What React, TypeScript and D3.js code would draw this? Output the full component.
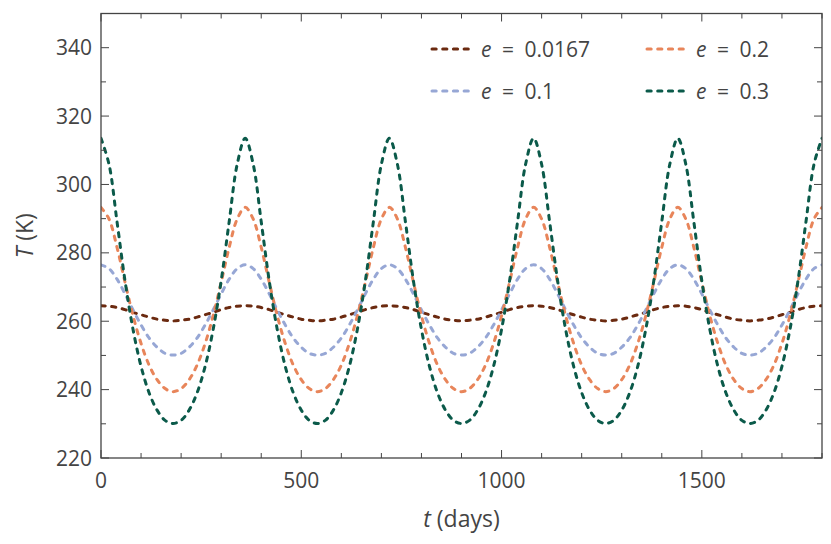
import React, { useEffect } from 'react';
import * as d3 from 'd3';

// sample days (every 20 days over 5 orbits)
const days = [
  0, 20, 40, 60, 80, 100, 120, 140, 160, 180, 200, 220, 240, 260, 280, 300, 320, 340,
  360, 380, 400, 420, 440, 460, 480, 500, 520, 540, 560, 580, 600, 620, 640, 660, 680, 700,
  720, 740, 760, 780, 800, 820, 840, 860, 880, 900, 920, 940, 960, 980, 1000, 1020, 1040, 1060,
  1080, 1100, 1120, 1140, 1160, 1180, 1200, 1220, 1240, 1260, 1280, 1300, 1320, 1340, 1360, 1380,
  1400, 1420, 1440, 1460, 1480, 1500, 1520, 1540, 1560, 1580, 1600, 1620, 1640, 1660, 1680, 1700,
  1720, 1740, 1760, 1780, 1800,
];

const tempE0167 = [
  264.5, 264.4, 264.0, 263.4, 262.6, 261.9, 261.2, 260.6, 260.3, 260.1, 260.3, 260.6, 261.2, 261.9, 262.6, 263.4, 264.0, 264.4,
  264.5, 264.4, 264.0, 263.4, 262.6, 261.9, 261.2, 260.6, 260.3, 260.1, 260.3, 260.6, 261.2, 261.9, 262.6, 263.4, 264.0, 264.4,
  264.5, 264.4, 264.0, 263.4, 262.6, 261.9, 261.2, 260.6, 260.3, 260.1, 260.3, 260.6, 261.2, 261.9, 262.6, 263.4, 264.0, 264.4,
  264.5, 264.4, 264.0, 263.4, 262.6, 261.9, 261.2, 260.6, 260.3, 260.1, 260.3, 260.6, 261.2, 261.9, 262.6, 263.4, 264.0, 264.4,
  264.5, 264.4, 264.0, 263.4, 262.6, 261.9, 261.2, 260.6, 260.3, 260.1, 260.3, 260.6, 261.2, 261.9, 262.6, 263.4, 264.0, 264.4,
  264.5,
];

const tempE01 = [
  276.5, 275.4, 272.3, 268.0, 263.3, 258.9, 255.1, 252.4, 250.6, 250.1, 250.6, 252.4, 255.1, 258.9, 263.3, 268.0, 272.3, 275.4,
  276.5, 275.4, 272.3, 268.0, 263.3, 258.9, 255.1, 252.4, 250.6, 250.1, 250.6, 252.4, 255.1, 258.9, 263.3, 268.0, 272.3, 275.4,
  276.5, 275.4, 272.3, 268.0, 263.3, 258.9, 255.1, 252.4, 250.6, 250.1, 250.6, 252.4, 255.1, 258.9, 263.3, 268.0, 272.3, 275.4,
  276.5, 275.4, 272.3, 268.0, 263.3, 258.9, 255.1, 252.4, 250.6, 250.1, 250.6, 252.4, 255.1, 258.9, 263.3, 268.0, 272.3, 275.4,
  276.5, 275.4, 272.3, 268.0, 263.3, 258.9, 255.1, 252.4, 250.6, 250.1, 250.6, 252.4, 255.1, 258.9, 263.3, 268.0, 272.3, 275.4,
  276.5,
];

const tempE02 = [
  293.3, 289.9, 281.6, 271.4, 261.6, 253.5, 247.2, 242.9, 240.3, 239.4, 240.3, 242.9, 247.2, 253.5, 261.6, 271.4, 281.6, 289.9,
  293.3, 289.9, 281.6, 271.4, 261.6, 253.5, 247.2, 242.9, 240.3, 239.4, 240.3, 242.9, 247.2, 253.5, 261.6, 271.4, 281.6, 289.9,
  293.3, 289.9, 281.6, 271.4, 261.6, 253.5, 247.2, 242.9, 240.3, 239.4, 240.3, 242.9, 247.2, 253.5, 261.6, 271.4, 281.6, 289.9,
  293.3, 289.9, 281.6, 271.4, 261.6, 253.5, 247.2, 242.9, 240.3, 239.4, 240.3, 242.9, 247.2, 253.5, 261.6, 271.4, 281.6, 289.9,
  293.3, 289.9, 281.6, 271.4, 261.6, 253.5, 247.2, 242.9, 240.3, 239.4, 240.3, 242.9, 247.2, 253.5, 261.6, 271.4, 281.6, 289.9,
  293.3,
];

const tempE03 = [
  313.5, 305.9, 289.1, 271.8, 257.6, 246.8, 239.1, 234.0, 231.0, 230.1, 231.0, 234.0, 239.1, 246.8, 257.6, 271.8, 289.1, 305.9,
  313.5, 305.9, 289.1, 271.8, 257.6, 246.8, 239.1, 234.0, 231.0, 230.1, 231.0, 234.0, 239.1, 246.8, 257.6, 271.8, 289.1, 305.9,
  313.5, 305.9, 289.1, 271.8, 257.6, 246.8, 239.1, 234.0, 231.0, 230.1, 231.0, 234.0, 239.1, 246.8, 257.6, 271.8, 289.1, 305.9,
  313.5, 305.9, 289.1, 271.8, 257.6, 246.8, 239.1, 234.0, 231.0, 230.1, 231.0, 234.0, 239.1, 246.8, 257.6, 271.8, 289.1, 305.9,
  313.5, 305.9, 289.1, 271.8, 257.6, 246.8, 239.1, 234.0, 231.0, 230.1, 231.0, 234.0, 239.1, 246.8, 257.6, 271.8, 289.1, 305.9,
  313.5,
];

const seriesLabels = ['0.0167', '0.1', '0.2', '0.3'];
const seriesValues = [tempE0167, tempE01, tempE02, tempE03];
const seriesColors = ['#6b2a10', '#97a7d5', '#e8855a', '#0b5a4a'];

const xMajorTicks = [0, 500, 1000, 1500];
const yMajorTicks = [220, 240, 260, 280, 300, 320, 340];

const W = 831;
const H = 544;
const margin = { top: 13.5, right: 9, bottom: 86, left: 101 };
const ink = '#444';
const font = "'Open Sans', 'DejaVu Sans', sans-serif";

const App: React.FC = () => {
  useEffect(() => {
    document.body.style.margin = '0';
  }, []);

  const x = d3.scaleLinear().domain([0, 1800]).range([margin.left, W - margin.right]);
  const y = d3.scaleLinear().domain([220, 350]).range([H - margin.bottom, margin.top]);
  const [x0, x1] = x.range();
  const [y0, y1] = y.range();

  const line = d3.line<number>()
    .x((_, i) => x(days[i]))
    .y((d) => y(d))
    .curve(d3.curveCatmullRom.alpha(0.5));

  const xMinor = d3.range(0, 1801, 100).filter((v) => !xMajorTicks.includes(v));
  const yMinor = d3.range(220, 351, 10).filter((v) => !yMajorTicks.includes(v));

  const dash = { strokeWidth: 3, strokeDasharray: '4.2 6.5', strokeLinecap: 'round' as const };

  // legend layout: column-major, 2 rows
  const legendCols = [430, 645];
  const legendRows = [49, 91];

  return (
    <svg width={W} height={H} style={{ display: 'block', background: '#fff' }} fontFamily={font}>
      <defs>
        <clipPath id="plot">
          <rect x={x0} y={y1} width={x1 - x0} height={y0 - y1} />
        </clipPath>
      </defs>

      <g clipPath="url(#plot)">
        {seriesValues.map((vals, i) => (
          <path key={i} d={line(vals) || ''} fill="none" stroke={seriesColors[i]} {...dash} />
        ))}
      </g>

      {/* ticks, inward on all four sides */}
      <g stroke={ink} strokeWidth={1}>
        {xMajorTicks.map((v) => (
          <g key={'xM' + v}>
            <line x1={x(v)} x2={x(v)} y1={y0} y2={y0 - 8} />
            <line x1={x(v)} x2={x(v)} y1={y1} y2={y1 + 8} />
          </g>
        ))}
        {xMinor.map((v) => (
          <g key={'xm' + v}>
            <line x1={x(v)} x2={x(v)} y1={y0} y2={y0 - 5} />
            <line x1={x(v)} x2={x(v)} y1={y1} y2={y1 + 5} />
          </g>
        ))}
        {yMajorTicks.map((v) => (
          <g key={'yM' + v}>
            <line x1={x0} x2={x0 + 8} y1={y(v)} y2={y(v)} />
            <line x1={x1} x2={x1 - 8} y1={y(v)} y2={y(v)} />
          </g>
        ))}
        {yMinor.map((v) => (
          <g key={'ym' + v}>
            <line x1={x0} x2={x0 + 5} y1={y(v)} y2={y(v)} />
            <line x1={x1} x2={x1 - 5} y1={y(v)} y2={y(v)} />
          </g>
        ))}
      </g>

      <rect x={x0} y={y1} width={x1 - x0} height={y0 - y1} fill="none" stroke={ink} strokeWidth={1.3} />

      {/* tick labels */}
      <g fill={ink} fontSize={21}>
        {xMajorTicks.map((v) => (
          <text key={'xl' + v} x={x(v)} y={y0 + 30} textAnchor="middle">{v}</text>
        ))}
        {yMajorTicks.map((v) => (
          <text key={'yl' + v} x={x0 - 9} y={y(v)} dy="0.36em" textAnchor="end">{v}</text>
        ))}
      </g>

      {/* axis labels */}
      <text x={(x0 + x1) / 2} y={527} textAnchor="middle" fill={ink} fontSize={23}>
        <tspan fontStyle="italic">t</tspan>{' (days)'}
      </text>
      <text transform={`translate(33,${(y0 + y1) / 2}) rotate(-90)`} textAnchor="middle" fill={ink} fontSize={23}>
        <tspan fontStyle="italic">T</tspan>{' (K)'}
      </text>

      {/* legend */}
      {seriesLabels.map((lab, i) => {
        const cx = legendCols[Math.floor(i / 2)];
        const cy = legendRows[i % 2];
        return (
          <g key={'lg' + i}>
            <line x1={cx + 2} x2={cx + 40} y1={cy} y2={cy} stroke={seriesColors[i]} {...dash} />
            <text x={cx + 51} y={cy} dy="0.36em" fill={ink} fontSize={21}>
              <tspan fontStyle="italic">e</tspan>{'\u2002=\u2002' + lab}
            </text>
          </g>
        );
      })}
    </svg>
  );
};

export default App;
